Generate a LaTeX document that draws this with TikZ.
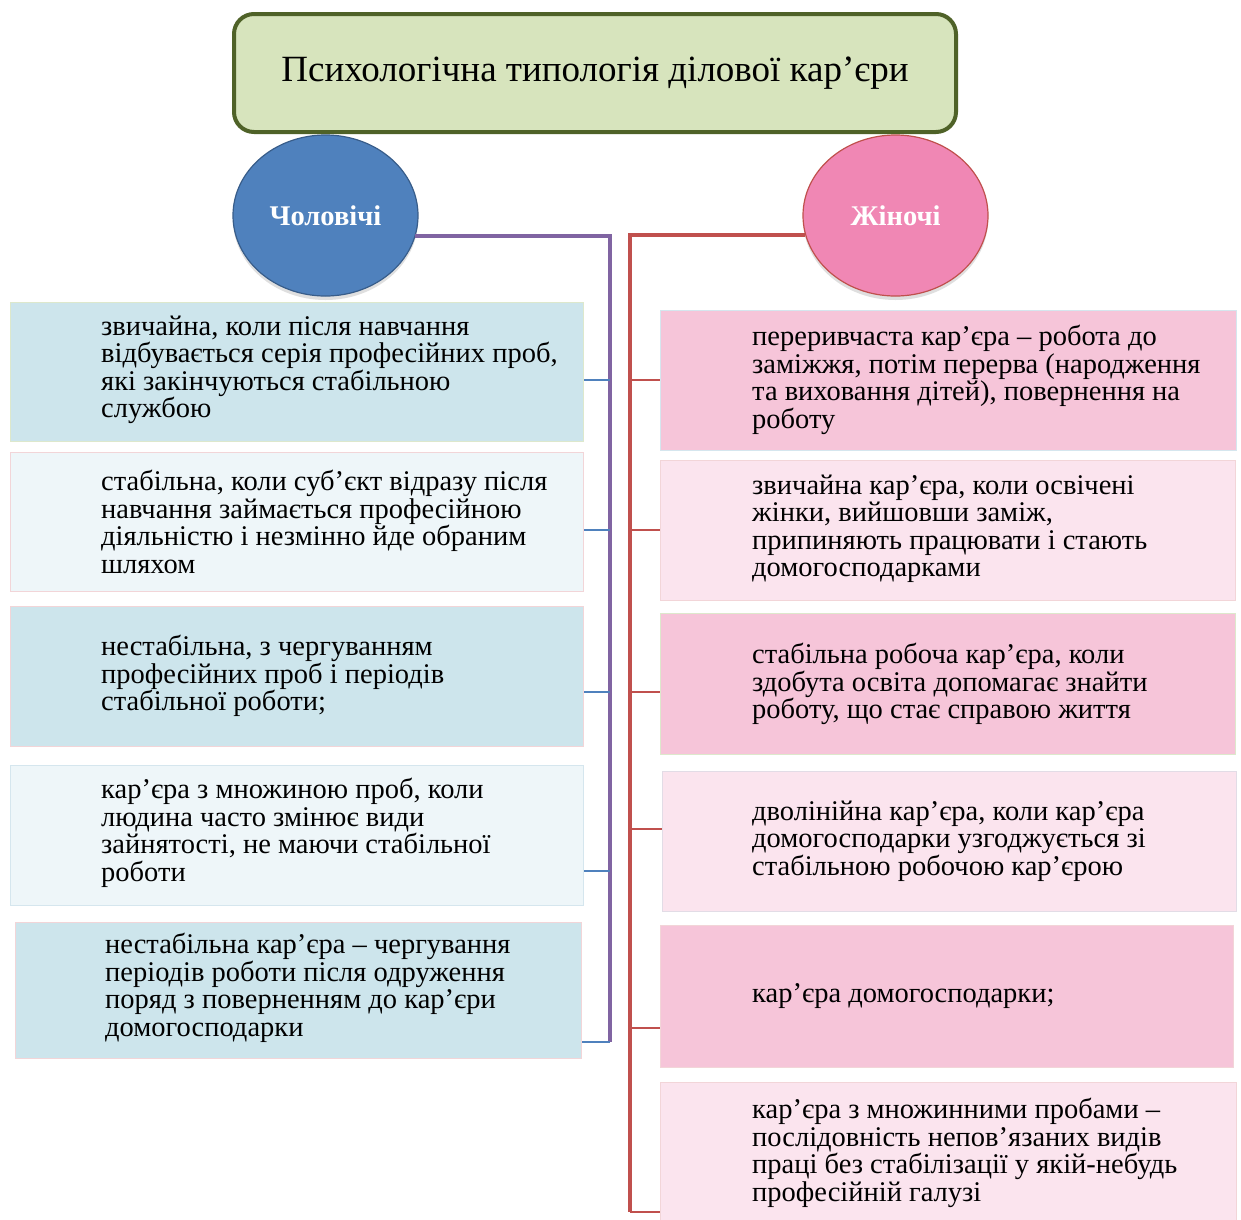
\documentclass[tikz,border=0pt]{standalone}
\usepackage{fontspec}
\setmainfont{Liberation Serif}
\usetikzlibrary{shadows,shapes.geometric}
\definecolor{titlefill}{HTML}{D7E4BD}
\definecolor{titledraw}{HTML}{4F6228}
\definecolor{menfill}{HTML}{4F81BD}
\definecolor{mendraw}{HTML}{385D8A}
\definecolor{womfill}{HTML}{F087B4}
\definecolor{womdraw}{HTML}{C0504D}
\definecolor{purpleln}{HTML}{8064A2}
\definecolor{redln}{HTML}{C0504D}
\definecolor{blueconn}{HTML}{4F81BD}
\definecolor{ldark}{HTML}{CDE5EC}
\definecolor{llight}{HTML}{EEF6F9}
\definecolor{rdark}{HTML}{F6C5D9}
\definecolor{rlight}{HTML}{FBE4EE}
\definecolor{bgreen}{HTML}{DDE8CC}
\definecolor{bpink}{HTML}{F2D5D8}
\definecolor{bblue}{HTML}{D5E6EE}
\definecolor{bgray}{HTML}{E2DCE6}
\tikzset{
  boxbase/.style={rectangle, line width=1.2pt, anchor=north west, inner sep=0pt},
  itemtext/.style={anchor=west, align=left, inner sep=0pt, font=\fontsize{28.5}{27.5}\selectfont, text=black},
  oval/.style={ellipse, minimum width=185pt, minimum height=161pt, line width=1.2pt, inner sep=0pt,
     drop shadow={shadow xshift=0pt, shadow yshift=-4pt, opacity=0.25},
     text=white, font=\fontsize{28.5}{30}\selectfont\bfseries},
  mainline/.style={line width=4pt},
  subconn/.style={line width=1.3pt}
}
\begin{document}
\begin{tikzpicture}[x=1pt,y=-1pt]
\useasboundingbox (0,0) rectangle (1241,1219);
\fill[white] (0,0) rectangle (1241,1219);

% title
\node[rectangle, rounded corners=20pt, fill=titlefill, draw=titledraw, line width=4pt,
      minimum width=722pt, minimum height=118pt, font=\fontsize{37}{40}\selectfont] (title) at (595,73)
      {Психологічна типологія ділової кар’єри};

% ovals
\node[oval, fill=menfill, draw=mendraw] (men) at (325.5,215.5) {Чоловічі};
\node[oval, fill=womfill, draw=womdraw] (wom) at (895.5,215.5) {Жіночі};

% coordinates for the trunk lines
\coordinate (pbot) at (610,1042);
\coordinate (rbot) at (630,1212);

% left boxes
\node[boxbase, fill=ldark, draw=bgreen, minimum width=573pt, minimum height=139pt] (L1) at (10,302) {};
\node[boxbase, fill=llight, draw=bpink, minimum width=573pt, minimum height=139pt] (L2) at (10,452) {};
\node[boxbase, fill=ldark, draw=bpink, minimum width=573pt, minimum height=140pt] (L3) at (10,606) {};
\node[boxbase, fill=llight, draw=bblue, minimum width=573pt, minimum height=140pt] (L4) at (10,765) {};
\node[boxbase, fill=ldark, draw=bpink, minimum width=566pt, minimum height=136pt] (L5) at (15,922) {};

\node[itemtext] (L1t) at (101,370) {звичайна, коли після навчання\\відбувається серія професійних проб,\\які закінчуються стабільною\\службою};
\node[itemtext] (L2t) at (101,522) {стабільна, коли суб’єкт відразу після\\навчання займається професійною\\діяльністю і незмінно йде обраним\\шляхом};
\node[itemtext] (L3t) at (101,676) {нестабільна, з чергуванням\\професійних проб і періодів\\стабільної роботи;};
\node[itemtext] (L4t) at (101,833) {кар’єра з множиною проб, коли\\людина часто змінює види\\зайнятості, не маючи стабільної\\роботи};
\node[itemtext] (L5t) at (105,988) {нестабільна кар’єра – чергування\\періодів роботи після одруження\\поряд з поверненням до кар’єри\\домогосподарки};

% right boxes
\node[boxbase, fill=rdark, draw=bblue, minimum width=576pt, minimum height=140pt] (R1) at (660,310) {};
\node[boxbase, fill=rlight, draw=bpink, minimum width=575pt, minimum height=140pt] (R2) at (660,460) {};
\node[boxbase, fill=rdark, draw=bgreen, minimum width=575pt, minimum height=141pt] (R3) at (660,613) {};
\node[boxbase, fill=rlight, draw=bgray, minimum width=574pt, minimum height=140pt] (R4) at (662,771) {};
\node[boxbase, fill=rdark, draw=bpink, minimum width=573pt, minimum height=142pt] (R5) at (660,925) {};
\node[boxbase, fill=rlight, draw=bpink, minimum width=576pt, minimum height=142pt] (R6) at (660,1082) {};

\node[itemtext] (R1t) at (752,380) {переривчаста кар’єра – робота до\\заміжжя, потім перерва (народження\\та виховання дітей), повернення на\\роботу};
\node[itemtext] (R2t) at (752,529) {звичайна кар’єра, коли освічені\\жінки, вийшовши заміж,\\припиняють працювати і стають\\домогосподарками};
\node[itemtext] (R3t) at (752,684) {стабільна робоча кар’єра, коли\\здобута освіта допомагає знайти\\роботу, що стає справою життя};
\node[itemtext] (R4t) at (752,841) {дволінійна кар’єра, коли кар’єра\\домогосподарки узгоджується зі\\стабільною робочою кар’єрою};
\node[itemtext] (R5t) at (752,996) {кар’єра домогосподарки;};
\node[itemtext] (R6t) at (752,1153) {кар’єра з множинними пробами –\\послідовність непов’язаних видів\\праці без стабілізації у якій-небудь\\професійній галузі};

% trunk lines
\draw[mainline, draw=purpleln] (men.-13) -| (pbot);
\draw[mainline, draw=redln] (wom.-168) -| (rbot);

% left connectors
\coordinate (c1) at (610,380);
\coordinate (c2) at (610,530);
\coordinate (c3) at (610,692);
\coordinate (c4) at (610,871);
\draw[subconn, blueconn] (L1.east |- c1) -- (c1);
\draw[subconn, blueconn] (L2.east |- c2) -- (c2);
\draw[subconn, blueconn] (L3.east |- c3) -- (c3);
\draw[subconn, blueconn] (L4.east |- c4) -- (c4);
\draw[subconn, blueconn] (L5.east |- pbot) -- (pbot);

% right connectors
\coordinate (d1) at (630,380);
\coordinate (d2) at (630,530);
\coordinate (d3) at (630,692);
\coordinate (d4) at (630,829);
\coordinate (d5) at (630,1028);
\draw[subconn, redln] (d1) -- (R1.west |- d1);
\draw[subconn, redln] (d2) -- (R2.west |- d2);
\draw[subconn, redln] (d3) -- (R3.west |- d3);
\draw[subconn, redln] (d4) -- (R4.west |- d4);
\draw[subconn, redln] (d5) -- (R5.west |- d5);
\draw[subconn, redln] (rbot) -- (R6.west |- rbot);
\end{tikzpicture}
\end{document}
